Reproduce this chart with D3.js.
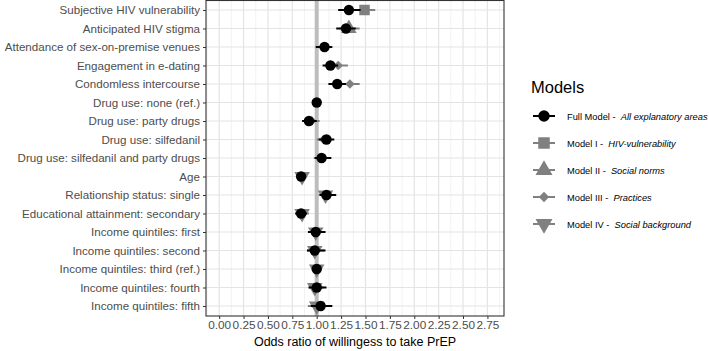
<!DOCTYPE html>
<html>
<head>
<meta charset="utf-8">
<script src="https://cdn.jsdelivr.net/npm/d3@7"></script>
<style>
  body { margin: 0; background: #fff; }
  svg { display: block; font-family: "Liberation Sans", Arial, sans-serif; }
</style>
</head>
<body>
<div id="svganchor"></div>
<script>
// categories, top to bottom
var categories = [
  "Subjective HIV vulnerability",
  "Anticipated HIV stigma",
  "Attendance of sex-on-premise venues",
  "Engagement in e-dating",
  "Condomless intercourse",
  "Drug use: none (ref.)",
  "Drug use: party drugs",
  "Drug use: silfedanil",
  "Drug use: silfedanil and party drugs",
  "Age",
  "Relationship status: single",
  "Educational attainment: secondary",
  "Income quintiles: first",
  "Income quintiles: second",
  "Income quintiles: third (ref.)",
  "Income quintiles: fourth",
  "Income quintiles: fifth"
];

// odds ratios and 95% CI per model (null = not in model)
var fullOR = [1.33, 1.30, 1.08, 1.14, 1.21, 1.00, 0.92, 1.10, 1.05, 0.84, 1.10, 0.84, 0.99, 0.98, 1.00, 1.00, 1.04];
var fullLo = [1.22, 1.20, 0.99, 1.06, 1.12, 1.00, 0.85, 1.02, 0.98, 0.80, 1.03, 0.78, 0.91, 0.90, 1.00, 0.92, 0.94];
var fullHi = [1.45, 1.40, 1.16, 1.22, 1.30, 1.00, 1.00, 1.18, 1.15, 0.88, 1.20, 0.90, 1.09, 1.09, 1.00, 1.10, 1.16];

var m1OR = [1.49, null, null, null, null, null, null, null, null, null, null, null, null, null, null, null, null];
var m1Lo = [1.38, null, null, null, null, null, null, null, null, null, null, null, null, null, null, null, null];
var m1Hi = [1.60, null, null, null, null, null, null, null, null, null, null, null, null, null, null, null, null];

var m2OR = [null, 1.33, null, null, null, null, null, null, null, null, null, null, null, null, null, null, null];
var m2Lo = [null, 1.23, null, null, null, null, null, null, null, null, null, null, null, null, null, null, null];
var m2Hi = [null, 1.44, null, null, null, null, null, null, null, null, null, null, null, null, null, null, null];

var m3OR = [null, null, 1.08, 1.22, 1.34, 1.00, 0.95, 1.07, 1.04, null, null, null, null, null, null, null, null];
var m3Lo = [null, null, 1.00, 1.14, 1.25, 1.00, 0.88, 1.00, 0.97, null, null, null, null, null, null, null, null];
var m3Hi = [null, null, 1.15, 1.32, 1.44, 1.00, 1.03, 1.15, 1.12, null, null, null, null, null, null, null, null];

var m4OR = [null, null, null, null, null, null, null, null, null, 0.85, 1.09, 0.85, 0.99, 0.98, 1.00, 0.98, 1.00];
var m4Lo = [null, null, null, null, null, null, null, null, null, 0.80, 1.02, 0.78, 0.91, 0.90, 1.00, 0.91, 0.91];
var m4Hi = [null, null, null, null, null, null, null, null, null, 0.90, 1.17, 0.92, 1.08, 1.08, 1.00, 1.07, 1.10];

var modelNames = ["Full Model - ", "Model I - ", "Model II - ", "Model III - ", "Model IV - "];
var modelAreas = ["All explanatory areas", "HIV-vulnerability", "Social norms", "Practices", "Social background"];

var xTicks = [0, 0.25, 0.5, 0.75, 1, 1.25, 1.5, 1.75, 2, 2.25, 2.5, 2.75];

var width = 709, height = 351;
var panel = { left: 206, right: 504, top: 0.5, bottom: 316 };
var gray = "#808080";

var svg = d3.select("#svganchor").append("svg")
  .attr("width", width).attr("height", height);

var x = d3.scaleLinear().domain([-0.135, 2.92]).range([panel.left, panel.right]);
var y = d3.scalePoint().domain(categories).range([10, 306]);

// shapes for each model
var shapes = [
  { type: d3.symbolCircle, size: 85, rot: 0, color: "#000" },
  { type: d3.symbolSquare, size: 110, rot: 0, color: gray },
  { type: d3.symbolTriangle, size: 105, rot: 0, color: gray },
  { type: d3.symbolSquare, size: 45, rot: 45, color: gray },
  { type: d3.symbolTriangle, size: 105, rot: 180, color: gray }
];

function build(or, lo, hi, m) {
  return categories.map(function (c, i) {
    return { cat: c, or: or[i], lo: lo[i], hi: hi[i], m: m };
  }).filter(function (d) { return d.or !== null; });
}

var models = [
  build(fullOR, fullLo, fullHi, 0),
  build(m1OR, m1Lo, m1Hi, 1),
  build(m2OR, m2Lo, m2Hi, 2),
  build(m3OR, m3Lo, m3Hi, 3),
  build(m4OR, m4Lo, m4Hi, 4)
];

// grid
var grid = svg.append("g");
var minor = d3.range(0, 3, 0.25).map(function (v) { return v + 0.125; });
minor.unshift(-0.125);
grid.selectAll(".minor").data(minor).enter().append("line")
  .attr("x1", function (d) { return x(d); }).attr("x2", function (d) { return x(d); })
  .attr("y1", panel.top).attr("y2", panel.bottom)
  .attr("stroke", "#efefef").attr("stroke-width", 0.8);
grid.selectAll(".major").data(xTicks).enter().append("line")
  .attr("x1", function (d) { return x(d); }).attr("x2", function (d) { return x(d); })
  .attr("y1", panel.top).attr("y2", panel.bottom)
  .attr("stroke", "#e4e4e4").attr("stroke-width", 1.2);
grid.selectAll(".hgrid").data(categories).enter().append("line")
  .attr("x1", panel.left).attr("x2", panel.right)
  .attr("y1", function (d) { return y(d); }).attr("y2", function (d) { return y(d); })
  .attr("stroke", "#e4e4e4").attr("stroke-width", 1.2);

// reference line at OR = 1
svg.append("line")
  .attr("x1", x(1)).attr("x2", x(1))
  .attr("y1", panel.top).attr("y2", panel.bottom)
  .attr("stroke", "#bdbdbd").attr("stroke-width", 4);

// draw gray models first, full model on top
[1, 2, 3, 4, 0].forEach(function (mi) {
  var sh = shapes[mi];
  var g = svg.append("g");
  g.selectAll("line").data(models[mi]).enter().append("line")
    .attr("x1", function (d) { return x(d.lo); })
    .attr("x2", function (d) { return x(d.hi); })
    .attr("y1", function (d) { return y(d.cat); })
    .attr("y2", function (d) { return y(d.cat); })
    .attr("stroke", sh.color).attr("stroke-width", 2);
  g.selectAll("path").data(models[mi]).enter().append("path")
    .attr("d", d3.symbol().type(sh.type).size(sh.size))
    .attr("transform", function (d) {
      return "translate(" + x(d.or) + "," + y(d.cat) + ") rotate(" + sh.rot + ")";
    })
    .attr("fill", sh.color);
});

// axes
var xAxis = svg.append("g")
  .attr("transform", "translate(0," + panel.bottom + ")")
  .call(d3.axisBottom(x).tickValues(xTicks).tickFormat(d3.format(".2f")).tickSize(3).tickPadding(2));
xAxis.select(".domain").remove();
xAxis.selectAll("line").attr("stroke", "#333");
xAxis.selectAll("text").attr("fill", "#4d4d4d").style("font-size", "11.8px");

var yAxis = svg.append("g")
  .attr("transform", "translate(" + panel.left + ",0)")
  .call(d3.axisLeft(y).tickSize(3).tickPadding(3));
yAxis.select(".domain").remove();
yAxis.selectAll("line").attr("stroke", "#333");
yAxis.selectAll("text").attr("fill", "#4d4d4d").style("font-size", "11.6px");

// panel border
svg.append("rect")
  .attr("x", panel.left).attr("y", panel.top)
  .attr("width", panel.right - panel.left).attr("height", panel.bottom - panel.top)
  .attr("fill", "none").attr("stroke", "#333").attr("stroke-width", 1.1);

// x title
svg.append("text")
  .attr("x", (panel.left + panel.right) / 2).attr("y", 346)
  .attr("text-anchor", "middle").style("font-size", "12.5px").attr("fill", "#000")
  .text("Odds ratio of willingess to take PrEP");

// legend
var legend = svg.append("g");
legend.append("text").attr("x", 531).attr("y", 93)
  .style("font-size", "16.5px").attr("fill", "#000").text("Models");

var items = legend.selectAll(".item").data(d3.range(5)).enter().append("g")
  .attr("transform", function (d) { return "translate(544," + (116 + d * 27) + ")"; });
items.append("line").attr("x1", -11).attr("x2", 11)
  .attr("stroke", function (d) { return shapes[d].color; }).attr("stroke-width", 2);
items.append("path")
  .attr("d", function (d) { return d3.symbol().type(shapes[d].type).size(shapes[d].size * 1.2)(); })
  .attr("transform", function (d) { return "rotate(" + shapes[d].rot + ")"; })
  .attr("fill", function (d) { return shapes[d].color; });
var lt = items.append("text").attr("x", 23).attr("y", 3.5)
  .style("font-size", "9.3px").attr("fill", "#000");
lt.append("tspan").attr("xml:space", "preserve").text(function (d) { return modelNames[d] + " "; });
lt.append("tspan").attr("font-style", "italic").text(function (d) { return modelAreas[d]; });
</script>
</body>
</html>
